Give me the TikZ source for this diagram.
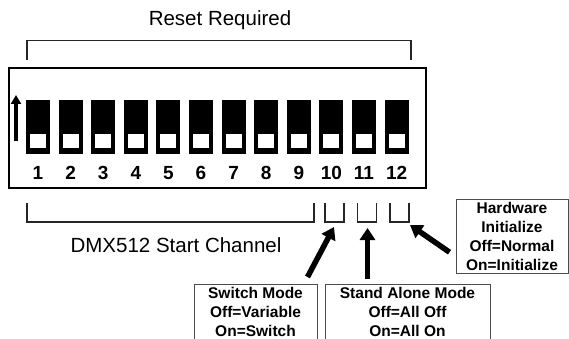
\documentclass[tikz,border=0pt]{standalone}
\usepackage{fontspec}
\setmainfont{Liberation Sans}
\usetikzlibrary{arrows.meta}

\begin{document}
\begin{tikzpicture}[x=1pt,y=-1pt]
        \clip (0,0) rectangle (569,339);
        \tikzset{fleche/.style={-{Triangle[length=12pt,width=15pt]},line width=5.5pt},
                 crochet/.style={line width=1.2pt,draw=black!85},
                 boite/.style={draw=black!70,line width=1pt,anchor=north,align=center,inner ysep=3pt,
                               font=\fontsize{15.5}{19}\selectfont\bfseries}}
        % switch block
        \draw[line width=1.8pt] (9,68) rectangle (426,188);
        \foreach \i in {1,...,12} {
                \node[fill=black,minimum width=24pt,minimum height=54pt,inner sep=0] (S\i) at ({38+(\i-1)*32.6},127) {};
                \node[fill=white,minimum width=16pt,minimum height=14pt,inner sep=0] (W\i) at ([yshift=13pt]S\i.south) {};
                \node[font=\fontsize{19}{21}\selectfont\bfseries] (N\i) at (S\i |- 0,173) {\i};
        }
        \coordinate (ON0) at (16,141);
        \coordinate (ON1) at (16,95);
        \draw[-{Triangle[length=9pt,width=10pt]},line width=3.4pt] (ON0) -- (ON1);
        % brackets
        \node[font=\fontsize{20.5}{24}\selectfont] (RR) at (220,20) {Reset Required};
        \draw[crochet] (27,60) -- (27,40.5) -- (411,40.5) -- (411,60);
        \draw[crochet] (27,203) -- (27,222) -- (314,222) -- (314,203);
        \node[font=\fontsize{20.5}{24}\selectfont] (DMX) at (176,245) {DMX512 Start Channel};
        \foreach \x in {325,357.5,390}
                \draw[crochet] (\x,203) -- (\x,222) -- (\x+19,222) -- (\x+19,203);
        \coordinate (T10) at (334,227);
        \coordinate (T11) at (367.5,228);
        \coordinate (T12) at (410,225);
        % boxes
        \node[boite,minimum width=123pt] (SM) at (255.5,284) {Switch Mode\\Off=Variable\\On=Switch};
        \node[boite,minimum width=165pt] (SA) at (407.5,284) {Stand Alone Mode\\Off=All Off\\On=All On};
        \node[boite,minimum width=112pt] (HW) at (512,199) {Hardware\\Initialize\\Off=Normal\\On=Initialize};
        \coordinate (SAq) at (SA.north -| T11);
        \draw[fleche] ([xshift=-10pt,yshift=7pt]SM.north east) -- (T10);
        \draw[fleche] ([yshift=5pt]SAq) -- (T11);
        \draw[fleche] ([xshift=-6pt,yshift=-15.5pt]HW.west) -- (T12);
\end{tikzpicture}
\end{document}
